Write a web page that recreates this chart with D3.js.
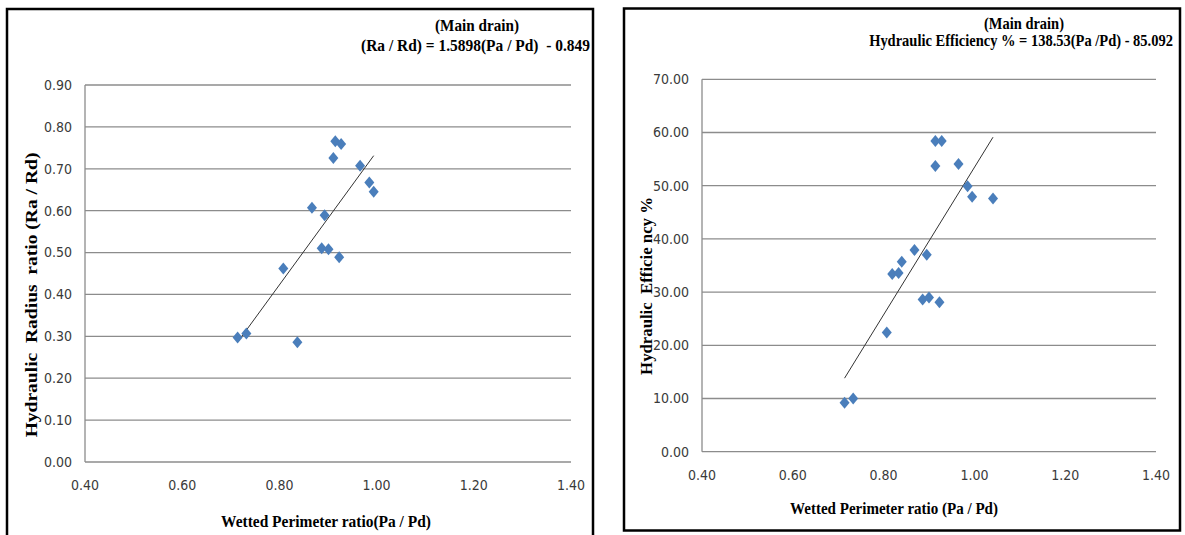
<!DOCTYPE html>
<html>
<head>
<meta charset="utf-8">
<script src="https://cdn.jsdelivr.net/npm/d3@7"></script>
<style>
  body { margin: 0; background: #fff; }
  .tick-label { font-family: "Liberation Sans Narrow", "DejaVu Sans Condensed", "Liberation Sans", sans-serif; font-size: 14px; fill: #3a3a3a; }
  .title { font-family: "Liberation Serif", "DejaVu Serif", serif; font-weight: bold; fill: #000; white-space: pre; }
</style>
</head>
<body>
<svg id="chart" width="1185" height="535"></svg>
<script>
// left chart: hydraulic radius ratio vs wetted perimeter ratio
var radiusX = [0.915, 0.927, 0.911, 0.966, 0.985, 0.994, 0.867, 0.893, 0.887, 0.901, 0.923, 0.808, 0.714, 0.732, 0.837];
var radiusY = [0.766, 0.759, 0.726, 0.707, 0.667, 0.645, 0.607, 0.589, 0.510, 0.508, 0.489, 0.462, 0.297, 0.307, 0.286];
// right chart: hydraulic efficiency % vs wetted perimeter ratio
var effX = [0.914, 0.928, 0.914, 0.965, 0.985, 0.995, 1.041, 0.868, 0.895, 0.840, 0.819, 0.833, 0.886, 0.900, 0.923, 0.807, 0.714, 0.733];
var effY = [58.4, 58.4, 53.7, 54.1, 49.9, 47.9, 47.6, 37.9, 37.0, 35.7, 33.4, 33.6, 28.6, 29.0, 28.1, 22.4, 9.2, 10.0];

var xTicks = [0.4, 0.6, 0.8, 1.0, 1.2, 1.4];
var radiusTicks = [0, 0.1, 0.2, 0.3, 0.4, 0.5, 0.6, 0.7, 0.8, 0.9];
var effTicks = [0, 10, 20, 30, 40, 50, 60, 70];

var svg = d3.select("#chart");
var fmt = d3.format(".2f");

// panel frames
svg.append("rect").attr("x", 7).attr("y", 9).attr("width", 586).attr("height", 540)
  .attr("fill", "none").attr("stroke", "#000").attr("stroke-width", 2.5);
svg.append("rect").attr("x", 624).attr("y", 8.5).attr("width", 556).attr("height", 522)
  .attr("fill", "none").attr("stroke", "#000").attr("stroke-width", 2.5);

// condensed bold serif text: squeeze horizontally to a target width
// cx,cy = centre of the text, w = width wanted, rot = rotate(-90) or not
function squeezed(g, str, cx, cy, w, rot) {
  var t = g.append("text").attr("class", "title").attr("font-size", 16)
    .attr("text-anchor", "middle").attr("dy", "0.35em").text(str);
  var sx = w / t.node().getComputedTextLength();
  t.attr("transform", "translate(" + cx + "," + cy + ")" + (rot ? " rotate(-90)" : "") + " scale(" + sx + ",1)");
  return t;
}

function drawChart(opts) {
  var x = d3.scaleLinear().domain([0.4, 1.4]).range(opts.xr),
      y = d3.scaleLinear().domain(opts.yd).range(opts.yr);
  var g = svg.append("g");

  // horizontal gridlines
  g.selectAll(".grid").data(opts.yTicks).enter().append("line")
    .attr("x1", x(0.4)).attr("x2", x(1.4))
    .attr("y1", function(d) { return y(d); }).attr("y2", function(d) { return y(d); })
    .attr("stroke", "#8c8c8c").attr("stroke-width", 1.3);
  // left axis line
  g.append("line").attr("x1", x(0.4)).attr("x2", x(0.4))
    .attr("y1", y(opts.yd[1])).attr("y2", y(0))
    .attr("stroke", "#8c8c8c").attr("stroke-width", 1.3);

  // y tick labels
  g.selectAll(".ylab").data(opts.yTicks).enter().append("text")
    .attr("class", "tick-label")
    .attr("x", x(0.4) - 13).attr("y", function(d) { return y(d); })
    .attr("dy", "0.35em").attr("text-anchor", "end")
    .text(function(d) { return fmt(d); });
  // x tick labels
  g.selectAll(".xlab").data(xTicks).enter().append("text")
    .attr("class", "tick-label")
    .attr("x", function(d) { return x(d); }).attr("y", opts.xLabY)
    .attr("dy", "0.35em").attr("text-anchor", "middle")
    .text(function(d) { return fmt(d); });

  // trend line from the fitted equation, min to max x
  var ext = d3.extent(opts.xs);
  g.append("line")
    .attr("x1", x(ext[0])).attr("y1", y(opts.slope * ext[0] + opts.icpt))
    .attr("x2", x(ext[1])).attr("y2", y(opts.slope * ext[1] + opts.icpt))
    .attr("stroke", "#333").attr("stroke-width", 1);

  // diamond markers
  g.selectAll(".pt").data(opts.xs).enter().append("path")
    .attr("d", function(d, i) {
      var cx = x(d), cy = y(opts.ys[i]);
      return "M" + cx + "," + (cy - 6) + "L" + (cx + 5) + "," + cy + "L" + cx + "," + (cy + 6) + "L" + (cx - 5) + "," + cy + "Z";
    })
    .attr("fill", "#4a7ebb");

  // titles and axis titles
  squeezed(g, "(Main drain)", opts.t1[0], opts.t1[1], opts.t1[2]);
  squeezed(g, opts.eq, opts.t2[0], opts.t2[1], opts.t2[2]);
  squeezed(g, opts.xTitle, opts.xt[0], opts.xt[1], opts.xt[2]);
  squeezed(g, opts.yTitle, opts.yt[0], opts.yt[1], opts.yt[2], true);
}

drawChart({
  xs: radiusX, ys: radiusY, yd: [0, 0.9], yTicks: radiusTicks,
  xr: [85, 571], yr: [462, 85], xLabY: 485,
  slope: 1.5898, icpt: -0.849,
  eq: "(Ra / Rd) = 1.5898(Pa / Pd)  - 0.849",
  t1: [477, 25.5, 84], t2: [475.5, 45.5, 229],
  xTitle: "Wetted Perimeter ratio(Pa / Pd)", xt: [326, 521.5, 210],
  yTitle: "Hydraulic  Radius  ratio (Ra / Rd)", yt: [31, 295, 285]
});

drawChart({
  xs: effX, ys: effY, yd: [0, 70], yTicks: effTicks,
  xr: [702, 1156], yr: [451.7, 79.3], xLabY: 475,
  slope: 138.53, icpt: -85.092,
  eq: "Hydraulic Efficiency % = 138.53(Pa /Pd) - 85.092",
  t1: [1024, 23.5, 80], t2: [1021, 40.5, 304],
  xTitle: "Wetted Perimeter ratio (Pa / Pd)", xt: [894, 508.5, 208],
  yTitle: "Hydraulic  Efficie ncy %", yt: [646, 286, 178]
});
</script>
</body>
</html>
